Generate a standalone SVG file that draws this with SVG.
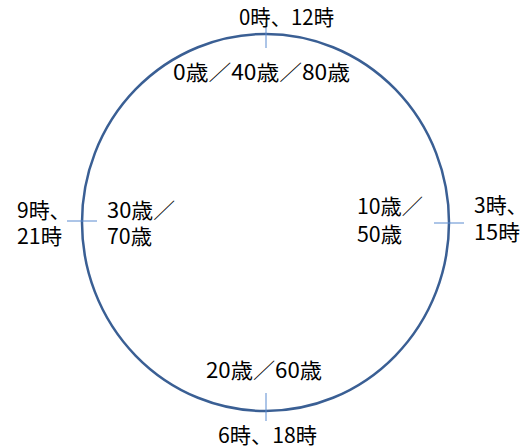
<svg xmlns="http://www.w3.org/2000/svg" width="520" height="448" viewBox="0 0 520 448">
<style>
text{font-family:"Noto Sans CJK JP","Noto Sans",sans-serif;font-size:21px;fill:#000}
.p{font-feature-settings:"palt"}
.tick{stroke:#5b8bd0;stroke-width:1}
.ring{fill:none;stroke:#3a5f94;stroke-width:2.5}
</style>
<rect width="520" height="448" fill="#fff"/>
<g id="circle"><ellipse class="ring" cx="265.5" cy="222.5" rx="183.5" ry="188.5"/></g>
<g id="connectors">
<line class="tick" x1="266" y1="22" x2="266" y2="48"/>
<line class="tick" x1="67" y1="221" x2="97" y2="221"/>
<line class="tick" x1="434" y1="223" x2="464" y2="223"/>
<line class="tick" x1="266" y1="393" x2="266" y2="421"/>
</g>
<g id="top"><text x="239" y="25" textLength="95" lengthAdjust="spacingAndGlyphs">0時、12時</text>
<text x="173" y="80" textLength="177" lengthAdjust="spacingAndGlyphs">0歳／40歳／80歳</text></g>
<g id="left"><text class="p" x="17" y="218">9時、</text><text x="17" y="244" textLength="45" lengthAdjust="spacingAndGlyphs">21時</text>
<text x="107" y="218" textLength="68" lengthAdjust="spacingAndGlyphs">30歳／</text><text x="107" y="244" textLength="45" lengthAdjust="spacingAndGlyphs">70歳</text></g>
<g id="right"><text x="357" y="214" textLength="66" lengthAdjust="spacingAndGlyphs">10歳／</text><text x="357" y="242" textLength="45" lengthAdjust="spacingAndGlyphs">50歳</text>
<text class="p" x="474" y="213">3時、</text><text x="474" y="240" textLength="46" lengthAdjust="spacingAndGlyphs">15時</text></g>
<g id="bottom"><text x="206" y="378" textLength="116" lengthAdjust="spacingAndGlyphs">20歳／60歳</text>
<text x="218" y="443" textLength="99" lengthAdjust="spacingAndGlyphs">6時、18時</text></g>
</svg>
